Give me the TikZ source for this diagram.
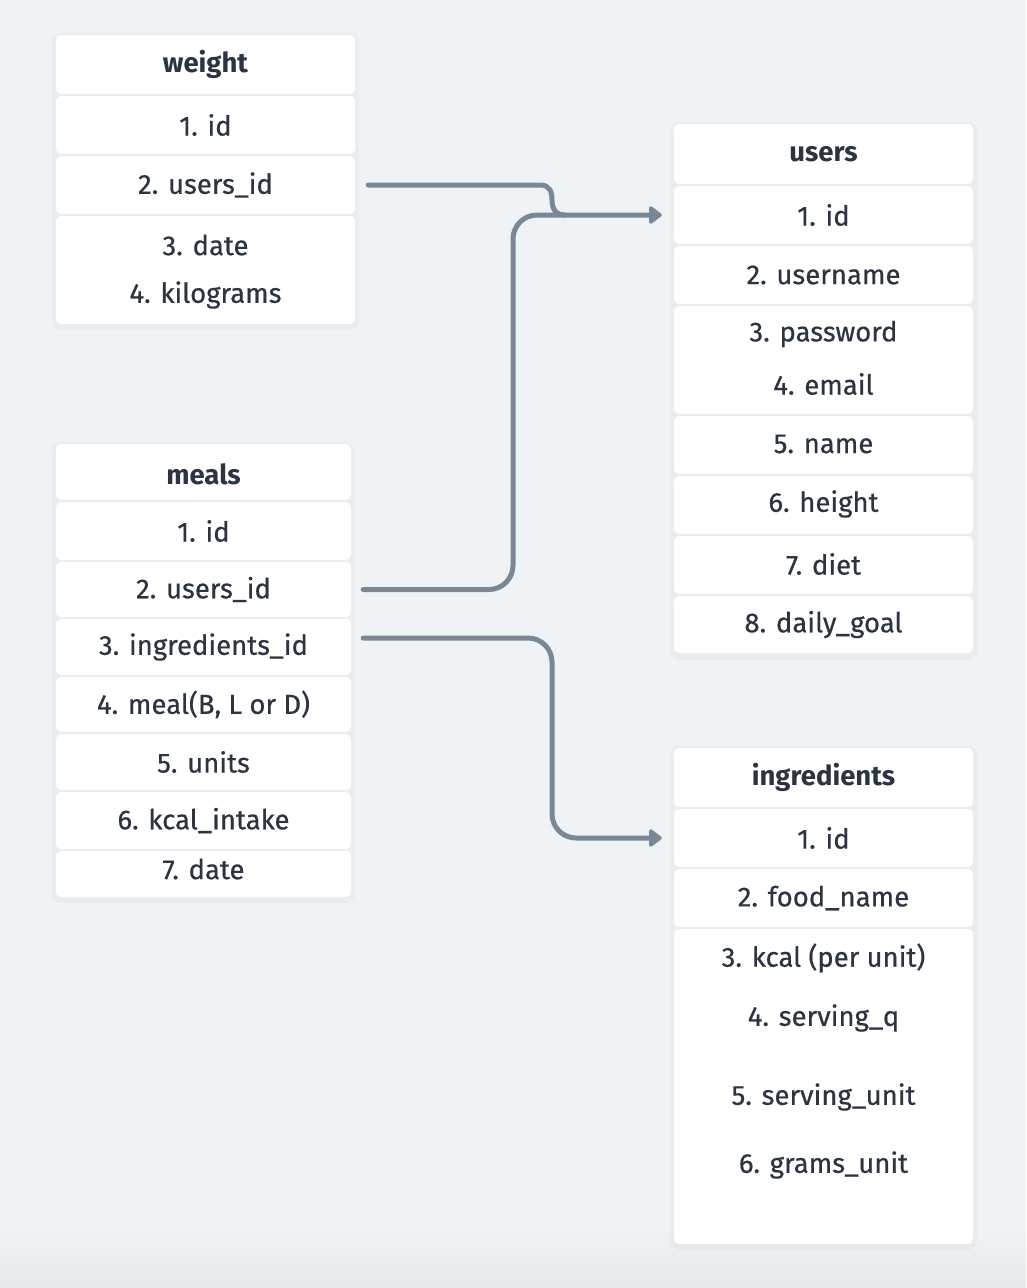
\documentclass[tikz,border=0pt]{standalone}
\usepackage{fontspec}
\setmainfont{Fira Sans}
\newfontfamily\medfont{Fira Sans}[FakeBold=0.5]
\usetikzlibrary{arrows.meta,calc}
\definecolor{bg}{HTML}{EFF3F6}
\definecolor{bgdark}{HTML}{E5E9ED}
\definecolor{ink}{HTML}{2B3440}
\definecolor{conncol}{HTML}{7A8794}
\newcommand{\fsz}{\fontsize{27.5}{32}\selectfont}
\tikzset{
  row/.style={draw=none, fill=white, rounded corners=5pt, inner sep=0pt,
    minimum width=299pt, minimum height=58pt, text=ink, font=\medfont\fsz},
  head/.style={row, font=\rmfamily\fsz\bfseries},
  label/.style={text=ink, inner sep=0pt, font=\medfont\fsz},
  shadowbox/.style={fill=black, opacity=0.025, rounded corners=9pt},
  conn/.style={draw=conncol, line width=5pt, line cap=round, line join=round},
  tip/.style={-{Triangle[length=14pt,width=20pt,round]}},
}
\begin{document}
\begin{tikzpicture}[x=1pt,y=-1pt]
\fill[bg] (0,0) rectangle (1026,1288);
\shade[top color=bg, bottom color=bgdark, draw=none] (0,1230) rectangle (1026,1288);
\useasboundingbox (0,0) rectangle (1026,1288);

% shadows
\fill[shadowbox] (52,33) rectangle (359,330);
\fill[shadowbox] (52,442) rectangle (355,903);
\fill[shadowbox] (670,122) rectangle (977,660);
\fill[shadowbox] (670,746) rectangle (977,1250);

% weight
\node[head, minimum height=59pt] (wh) at (205.5,64.5) {weight};
\node[row] (w1) at (205.5,125) {1. id};
\node[row] (w2) at (205.5,185) {2. users\_id};
\node[row, minimum height=108pt] (w3) at (205.5,270) {};
\node[label] (w3a) at (205.5,245) {3. date};
\node[label] (w3b) at (205.5,295) {4. kilograms};

% meals
\node[head, minimum width=295pt, minimum height=56pt] (mh) at (203.5,472) {};
\node[label, font=\rmfamily\fsz\bfseries] (mht) at (203.5,474) {meals};
\node[row, minimum width=295pt] (m1) at (203.5,531) {1. id};
\node[row, minimum width=295pt, minimum height=55pt] (m2) at (203.5,589.5) {2. users\_id};
\node[row, minimum width=295pt, minimum height=56pt] (m3) at (203.5,647) {3. ingredients\_id};
\node[row, minimum width=295pt, minimum height=55pt] (m4) at (203.5,704.5) {4. meal(B, L or D)};
\node[row, minimum width=295pt, minimum height=56pt] (m5) at (203.5,762) {5. units};
\node[row, minimum width=295pt, minimum height=57pt] (m6) at (203.5,820.5) {6. kcal\_intake};
\node[row, minimum width=295pt, minimum height=46pt] (m7) at (203.5,874) {};
\node[label] (m7t) at (203.5,869) {7. date};

% users
\node[head, minimum height=60pt] (uh) at (823.5,154) {users};
\node[row] (u1) at (823.5,215) {1. id};
\node[row] (u2) at (823.5,275) {2. username};
\node[row, minimum height=108pt] (u3) at (823.5,360) {};
\node[label] (u3a) at (823.5,334) {3. password};
\node[label] (u3b) at (823.5,384) {4. email};
\node[row] (u4) at (823.5,445) {};
\node[label] (u4t) at (823.5,444) {5. name};
\node[row] (u5) at (823.5,505) {};
\node[label] (u5t) at (823.5,504) {6. height};
\node[row] (u6) at (823.5,565) {};
\node[label] (u6t) at (823.5,564) {7. diet};
\node[row, minimum height=57pt] (u7) at (823.5,624.5) {8. daily\_goal};

% ingredients
\node[head, minimum height=59pt] (ih) at (823.5,777.5) {ingredients};
\node[row] (i1) at (823.5,838) {1. id};
\node[row] (i2) at (823.5,898) {2. food\_name};
\node[row, minimum height=315pt] (i3) at (823.5,1086.5) {};
\node[label] (i3a) at (823.5,958) {3. kcal (per unit)};
\node[label] (i3b) at (823.5,1018) {4. serving\_q};
\node[label] (i3c) at (823.5,1097) {5. serving\_unit};
\node[label] (i3d) at (823.5,1165) {6. grams\_unit};

% connectors
\draw[conn, rounded corners=24pt, shorten <=12pt] (m2.east) -- (513,589.5) -- (513,215) -- (565,215);
\draw[conn, tip, shorten <=13pt, shorten >=12pt] (w2.east) -- (540,185)
  .. controls (550,185) and (552,192) .. (552,200)
  .. controls (552,208) and (555,215) .. (565,215) -- (u1.west);
\draw[conn, tip, rounded corners=24pt, shorten <=12pt, shorten >=12pt] ($(m3.east)+(0,-9)$) -- (552,638) -- (552,838) -- (i1.west);
\end{tikzpicture}
\end{document}
